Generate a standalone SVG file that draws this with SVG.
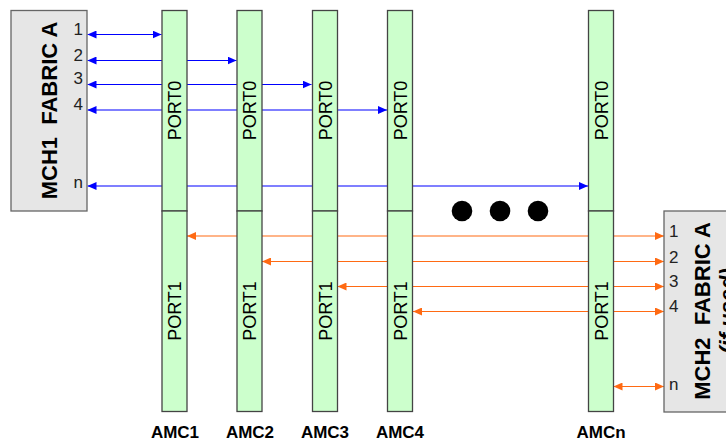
<svg xmlns="http://www.w3.org/2000/svg" width="726" height="441" viewBox="0 0 726 441">
<style>
.mch{fill:#e6e6e6;stroke:#666;stroke-width:1.3}
.col{fill:#ccffcc;stroke:#444;stroke-width:1.3}
.port{font-family:"Liberation Sans",Arial,sans-serif;font-size:18px;fill:#000;text-anchor:middle}
.num{font-family:"Liberation Sans",Arial,sans-serif;font-size:17px;fill:#222}
.title{font-family:"Liberation Sans",Arial,sans-serif;font-size:22px;font-weight:bold;fill:#000;text-anchor:middle;white-space:pre}
.amc{font-family:"Liberation Sans",Arial,sans-serif;font-size:17px;font-weight:bold;fill:#000;text-anchor:middle}
.blue{stroke:#0000ff;stroke-width:1.2;fill:none;marker-start:url(#bs);marker-end:url(#be)}
.orange{stroke:#ff6a13;stroke-width:1.2;fill:none;marker-start:url(#os);marker-end:url(#oe)}
</style>
<defs>
<marker id="be" markerWidth="9" markerHeight="8" refX="9" refY="4" orient="auto" markerUnits="userSpaceOnUse"><path d="M0,0 L9,4 L0,8 Z" fill="#0000ff"/></marker>
<marker id="bs" markerWidth="9" markerHeight="8" refX="0" refY="4" orient="auto" markerUnits="userSpaceOnUse"><path d="M9,0 L0,4 L9,8 Z" fill="#0000ff"/></marker>
<marker id="oe" markerWidth="9" markerHeight="8" refX="9" refY="4" orient="auto" markerUnits="userSpaceOnUse"><path d="M0,0 L9,4 L0,8 Z" fill="#ff6a13"/></marker>
<marker id="os" markerWidth="9" markerHeight="8" refX="0" refY="4" orient="auto" markerUnits="userSpaceOnUse"><path d="M9,0 L0,4 L9,8 Z" fill="#ff6a13"/></marker>
</defs>

<g id="connectors">
<line class="blue" x1="87.5" y1="34.5" x2="161.5" y2="34.5"/>
<line class="blue" x1="87.5" y1="60.5" x2="236.5" y2="60.5"/>
<line class="blue" x1="87.5" y1="84.5" x2="311.5" y2="84.5"/>
<line class="blue" x1="87.5" y1="110" x2="387" y2="110"/>
<line class="blue" x1="87.5" y1="186" x2="588" y2="186"/>
<line class="orange" x1="187" y1="236" x2="664" y2="236"/>
<line class="orange" x1="262" y1="261.5" x2="664" y2="261.5"/>
<line class="orange" x1="337.5" y1="286.5" x2="664" y2="286.5"/>
<line class="orange" x1="413" y1="311.5" x2="664" y2="311.5"/>
<line class="orange" x1="613.5" y1="386.5" x2="664" y2="386.5"/>
</g>

<g id="mch1">
<rect class="mch" x="11" y="10.5" width="76" height="200.5"/>
<text class="title" xml:space="preserve" transform="translate(56.5,110.5) rotate(-90)">MCH1  FABRIC A</text>
<text class="num" x="83" y="35" text-anchor="end">1</text>
<text class="num" x="83" y="61" text-anchor="end">2</text>
<text class="num" x="83" y="84" text-anchor="end">3</text>
<text class="num" x="83" y="110" text-anchor="end">4</text>
<text class="num" x="83" y="188" text-anchor="end">n</text>
</g>

<g id="mch2">
<rect class="mch" x="664" y="211" width="80" height="201"/>
<text class="num" x="669" y="237">1</text>
<text class="num" x="669" y="263">2</text>
<text class="num" x="669" y="287">3</text>
<text class="num" x="669" y="312">4</text>
<text class="num" x="669" y="390">n</text>
<text class="title" xml:space="preserve" transform="translate(710,311) rotate(-90)">MCH2  FABRIC A</text>
<text class="title" font-style="italic" transform="translate(735,311) rotate(-90)">(if used)</text>
</g>

<g id="amc1">
<rect class="col" x="162" y="10.5" width="25" height="200.5"/>
<rect class="col" x="162" y="211" width="25" height="200.5"/>
<text class="port" transform="translate(181,110.5) rotate(-90)">PORT0</text>
<text class="port" transform="translate(181,311) rotate(-90)">PORT1</text>
<text class="amc" x="175" y="438">AMC1</text>
</g>
<g id="amc2">
<rect class="col" x="237" y="10.5" width="25" height="200.5"/>
<rect class="col" x="237" y="211" width="25" height="200.5"/>
<text class="port" transform="translate(256,110.5) rotate(-90)">PORT0</text>
<text class="port" transform="translate(256,311) rotate(-90)">PORT1</text>
<text class="amc" x="250" y="438">AMC2</text>
</g>
<g id="amc3">
<rect class="col" x="312.5" y="10.5" width="25" height="200.5"/>
<rect class="col" x="312.5" y="211" width="25" height="200.5"/>
<text class="port" transform="translate(331.5,110.5) rotate(-90)">PORT0</text>
<text class="port" transform="translate(331.5,311) rotate(-90)">PORT1</text>
<text class="amc" x="325" y="438">AMC3</text>
</g>
<g id="amc4">
<rect class="col" x="387.5" y="10.5" width="25" height="200.5"/>
<rect class="col" x="387.5" y="211" width="25" height="200.5"/>
<text class="port" transform="translate(406.5,110.5) rotate(-90)">PORT0</text>
<text class="port" transform="translate(406.5,311) rotate(-90)">PORT1</text>
<text class="amc" x="400" y="438">AMC4</text>
</g>
<g id="amcn">
<rect class="col" x="588.5" y="10.5" width="25" height="200.5"/>
<rect class="col" x="588.5" y="211" width="25" height="200.5"/>
<text class="port" transform="translate(607.5,110.5) rotate(-90)">PORT0</text>
<text class="port" transform="translate(607.5,311) rotate(-90)">PORT1</text>
<text class="amc" x="601" y="438">AMCn</text>
</g>

<g id="ellipsis" fill="#000">
<circle cx="462" cy="211" r="10.3"/>
<circle cx="500" cy="211" r="10.3"/>
<circle cx="538" cy="211" r="10.3"/>
</g>
</svg>
